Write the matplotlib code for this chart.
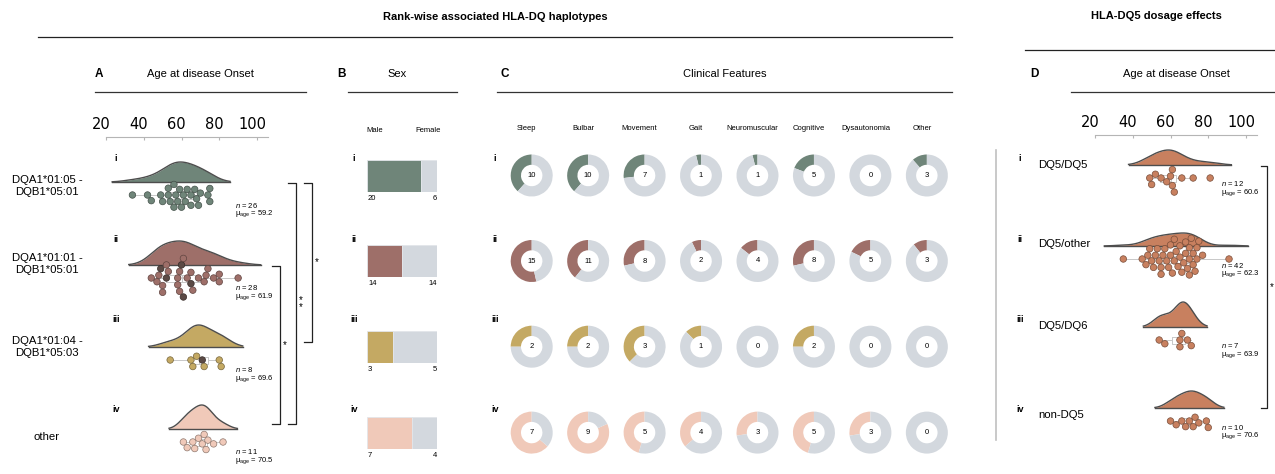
import numpy as np
import matplotlib.pyplot as plt
import matplotlib.transforms as mtransforms
from matplotlib.colors import to_rgb

plt.rcParams['font.family'] = ['Liberation Sans', 'DejaVu Sans']
plt.rcParams['mathtext.fontset'] = 'custom'
plt.rcParams['mathtext.rm'] = 'Liberation Sans'
plt.rcParams['mathtext.it'] = 'Liberation Sans:italic'

W, H = 1275, 474

# ---------------- data ----------------
roman = ['i', 'ii', 'iii', 'iv']
haplotypes = ['DQA1*01:05 -\nDQB1*05:01', 'DQA1*01:01 -\nDQB1*05:01',
              'DQA1*01:04 -\nDQB1*05:03', 'other']
hap_colors = ['#6f8579', '#9e6f69', '#c4a963', '#f0c9b9']

# A: age at onset per haplotype group
onset_A = [
    [34, 42, 44, 49, 50, 53, 53, 54, 56, 56, 57, 58, 59, 60, 61, 62, 63, 65, 65, 67, 68, 69, 70, 74, 75, 75],
    [44, 47, 48, 49, 50, 50, 52, 52, 53, 58, 58, 59, 59, 60, 61, 61, 63, 65, 65, 66, 69, 72, 73, 74, 77, 80, 80, 90],
    [54, 65, 66, 68, 71, 72, 80, 81],
    [61, 63, 66, 67, 69, 71, 72, 73, 74, 77, 82],
]
dark_A = [[], [49, 52, 60, 61, 65], [71], []]   # darker dots
n_A = [26, 28, 8, 11]
mean_A = [59.2, 61.9, 69.6, 70.5]
sig_A = [(1, 3, '*'), (0, 3, '*\n*'), (0, 2, '*')]

# B: sex
male = [20, 14, 3, 7]
female = [6, 14, 5, 4]

# C: clinical features
features = ['Sleep', 'Bulbar', 'Movement', 'Gait', 'Neuromuscular', 'Cognitive', 'Dysautonomia', 'Other']
feature_counts = [
    [10, 10, 7, 1, 1, 5, 0, 3],
    [15, 11, 8, 2, 4, 8, 5, 3],
    [2, 2, 3, 1, 0, 2, 0, 0],
    [7, 9, 5, 4, 3, 5, 3, 0],
]

# D: HLA-DQ5 dosage
dq5_groups = ['DQ5/DQ5', 'DQ5/other', 'DQ5/DQ6', 'non-DQ5']
dq5_color = '#c8805f'
onset_D = [
    [49, 50, 52, 55, 58, 60, 61, 61, 62, 66, 72, 81],
    [35, 45, 47, 48, 49, 50, 51, 52, 53, 54, 55, 55, 56, 57, 58, 59, 60, 60, 61, 62, 62,
     63, 64, 65, 65, 66, 67, 68, 68, 69, 70, 70, 70, 71, 72, 72, 73, 74, 74, 75, 77, 91],
    [54, 57, 65, 65, 66, 69, 71],
    [60, 63, 66, 68, 70, 72, 73, 75, 79, 80],
]
n_D = [12, 42, 7, 10]
mean_D = [60.6, 62.3, 63.9, 70.6]
sig_D = [(0, 3, '*')]

age_ticks = [20, 40, 60, 80, 100]

# ---------------- layout (pixels) ----------------
PX_PER_YEAR = 1.8875
A_base = [182, 265, 347, 429]
D_base = [165, 246, 327, 408]
row_mid = [175.5, 261, 346.7, 432.6]
roman_y = [158.5, 239, 319, 410]
violin_h_A = [20, 24, 22, 24]
violin_h_D = [15, 13, 25, 17]
GRAY = '#d3d8de'
LINE = '#333333'
DOT_S = 22
SWARM_D = 6.8

fig = plt.figure(figsize=(W / 100, H / 100), dpi=100)


def add_ax(x0, y0, x1, y1):
    return fig.add_axes([x0 / W, 1 - y1 / H, (x1 - x0) / W, (y1 - y0) / H])


ov = add_ax(0, 0, W, H)
ov.set_xlim(0, W)
ov.set_ylim(H, 0)
ov.axis('off')


def beeswarm(xs, d):
    ys = np.zeros(len(xs))
    placed = []
    for i in np.argsort(xs, kind='stable'):
        x = xs[i]
        near = [(px, py) for px, py in placed if abs(px - x) < d]
        cands = [0.0]
        for px, py in near:
            dy = np.sqrt(d * d - (px - x) ** 2)
            cands += [py + dy, py - dy]
        cands.sort(key=abs)
        for c in cands:
            if all((px - x) ** 2 + (py - c) ** 2 >= d * d - 1e-6 for px, py in near):
                ys[i] = c
                placed.append((x, c))
                break
    return ys


def cloud_axes(x0, top):
    ax = add_ax(x0, top, x0 + 162, H)
    ax.set_xlim(20, 20 + 162 / PX_PER_YEAR)
    ax.set_ylim(H - top, 0)
    ax.patch.set_visible(False)
    for s in ['left', 'right', 'bottom']:
        ax.spines[s].set_visible(False)
    ax.spines['top'].set_color('#b5b5b5')
    ax.spines['top'].set_linewidth(0.8)
    ax.xaxis.tick_top()
    ax.set_xticks(age_ticks)
    ax.tick_params(axis='x', length=2, direction='in', pad=3.5, labelsize=10.5,
                   color='#b5b5b5', labelcolor='black')
    shift = mtransforms.ScaledTranslation(-5 / 100, 0, fig.dpi_scale_trans)
    for lab in ax.get_xticklabels():
        lab.set_fontfamily('DejaVu Sans')
        lab.set_transform(lab.get_transform() + shift)
    ax.set_yticks([])
    return ax


def draw_cloud(ax, top, ages, base_px, color, height, dark):
    a = np.asarray(ages, float)
    base = base_px - top
    bw = a.std(ddof=1) * len(a) ** -0.2
    grid = np.linspace(a.min() - 2 * bw, a.max() + 2 * bw, 300)
    dens = np.exp(-0.5 * ((grid[:, None] - a[None, :]) / bw) ** 2).sum(1)
    dens = dens / dens.max() * height
    ax.fill_between(grid, base, base - dens, color=color, lw=0, zorder=2, clip_on=False)
    ax.plot(grid, base - dens, color='#4d4d4d', lw=1.0, zorder=2.1, clip_on=False)
    ax.plot([grid[0], grid[-1]], [base, base], color='#4d4d4d', lw=1.0, zorder=2.1, clip_on=False)

    mid = base + 13
    offs = beeswarm(a * PX_PER_YEAR, SWARM_D)
    ax.boxplot(a, positions=[mid], orientation='horizontal', widths=7, showfliers=False,
               showcaps=False, manage_ticks=False, patch_artist=False,
               boxprops=dict(color='#c8c8c8', lw=0.7), whiskerprops=dict(color='#c8c8c8', lw=0.7),
               medianprops=dict(color='#c8c8c8', lw=0.7), zorder=2.5)
    cols = []
    left = list(dark)
    for v in a:
        if v in left:
            left.remove(v)
            cols.append('#5b4a45')
        else:
            cols.append(color)
    edges = [tuple(np.array(to_rgb(c)) * 0.6) for c in cols]
    ax.scatter(a, mid + offs, s=DOT_S, c=cols, edgecolors=edges, linewidths=0.5,
               zorder=3, clip_on=False)


def bracket(x, y0, y1, label, tick):
    ov.plot([x - tick, x, x, x - tick], [y0, y0, y1, y1], color='#222222', lw=0.9)
    ov.text(x + 5, (y0 + y1) / 2, label, fontsize=7, ha='center', va='center', linespacing=0.7)


# ---------------- titles ----------------
ov.text(495, 17, 'Rank-wise associated HLA-DQ haplotypes', ha='center', va='center',
        fontsize=8, fontweight='bold')
ov.plot([38, 952], [37, 37], color='#222222', lw=0.9)
ov.text(1156, 16, 'HLA-DQ5 dosage effects', ha='center', va='center', fontsize=8, fontweight='bold')
ov.plot([1025, 1275], [50, 50], color='#222222', lw=0.9)

for letter, lx, title, tx, x0, x1 in [('A', 99, 'Age at disease Onset', 200, 95, 306),
                                      ('B', 342, 'Sex', 397, 348, 457),
                                      ('C', 505, 'Clinical Features', 725, 497, 952),
                                      ('D', 1034, 'Age at disease Onset', 1176, 1071, 1275)]:
    ov.text(lx, 74, letter, ha='center', va='center', fontsize=8.5, fontweight='bold')
    ov.text(tx, 74, title, ha='center', va='center', fontsize=8)
    ov.plot([x0, x1], [91.5, 91.5], color=LINE, lw=0.9)

# ---------------- panel A ----------------
A_top = 137
axA = cloud_axes(106, A_top)
for i in range(4):
    draw_cloud(axA, A_top, onset_A[i], A_base[i], hap_colors[i], violin_h_A[i], dark_A[i])
    ov.text(235, A_base[i] + 23, f'$n$ = {n_A[i]}', fontsize=5.5, va='center')
    ov.text(235, A_base[i] + 32, r'$\mathrm{μ}_{\mathrm{age}}$ = ' + f'{mean_A[i]}', fontsize=5.5, va='center')
    ov.text(116, roman_y[i], roman[i], fontsize=6.5, fontweight='bold', ha='center', va='center')
for lab, y in zip(haplotypes, [186, 264, 347, 437]):
    ov.text(47, y, lab, ha='center', va='center', fontsize=8.2, linespacing=1.3)
for (a, b, lab), x in zip(sig_A, [280, 296, 312]):
    bracket(x, A_base[a] + 1, A_base[b] - 5, lab, 8)

# ---------------- panel B ----------------
ov.text(375, 130, 'Male', ha='center', va='center', fontsize=5.5)
ov.text(428, 130, 'Female', ha='center', va='center', fontsize=5.5)
for i in range(4):
    y = row_mid[i]
    ax = add_ax(367, y - 16, 437, y + 16)
    ax.barh(0, male[i], height=1, color=hap_colors[i], edgecolor='#e3e6ea', lw=0.6)
    ax.barh(0, female[i], left=male[i], height=1, color=GRAY, edgecolor='#e3e6ea', lw=0.6)
    ax.set_xlim(0, male[i] + female[i])
    ax.set_ylim(-0.5, 0.5)
    ax.axis('off')
    ov.text(368, y + 22.5, str(male[i]), ha='left', va='center', fontsize=5.5)
    ov.text(437, y + 22.5, str(female[i]), ha='right', va='center', fontsize=5.5)
    ov.text(354, roman_y[i], roman[i], fontsize=6.5, fontweight='bold', ha='center', va='center')

# ---------------- panel C ----------------
for j, feat in enumerate(features):
    ov.text(531.7 + 56.45 * j - 5, 129, feat, ha='center', va='center', fontsize=5.5)
for i in range(4):
    ov.text(495, roman_y[i], roman[i], fontsize=6.5, fontweight='bold', ha='center', va='center')
    for j in range(len(features)):
        cx, cy = 531.7 + 56.45 * j, row_mid[i]
        ax = add_ax(cx - 22, cy - 22, cx + 22, cy + 22)
        k = feature_counts[i][j]
        ax.pie([k, n_A[i] - k], colors=[hap_colors[i], GRAY], startangle=90, counterclock=True,
               radius=1, wedgeprops=dict(width=0.49, linewidth=0))
        ax.set_xlim(-22 / 21, 22 / 21)
        ax.set_ylim(-22 / 21, 22 / 21)
        ax.set_aspect('equal')
        ax.text(0, 0, str(k), ha='center', va='center', fontsize=5.5)

# ---------------- panel D ----------------
ov.plot([996, 996], [150, 440], color='#c0c0c0', lw=1.2)
D_top = 135
axD = cloud_axes(1095, D_top)
for i in range(4):
    draw_cloud(axD, D_top, onset_D[i], D_base[i], dq5_color, violin_h_D[i], [])
    ov.text(1221, D_base[i] + 19, f'$n$ = {n_D[i]}', fontsize=5.5, va='center')
    ov.text(1221, D_base[i] + 28, r'$\mathrm{μ}_{\mathrm{age}}$ = ' + f'{mean_D[i]}', fontsize=5.5, va='center')
    ov.text(1020, roman_y[i], roman[i], fontsize=6.5, fontweight='bold', ha='center', va='center')
for lab, y in zip(dq5_groups, [165, 244, 326, 415]):
    ov.text(1038, y, lab, ha='left', va='center', fontsize=8.2)
for a, b, lab in sig_D:
    bracket(1267, D_base[a] + 1, D_base[b], lab, 6)

fig.savefig('out.png', dpi=100)
